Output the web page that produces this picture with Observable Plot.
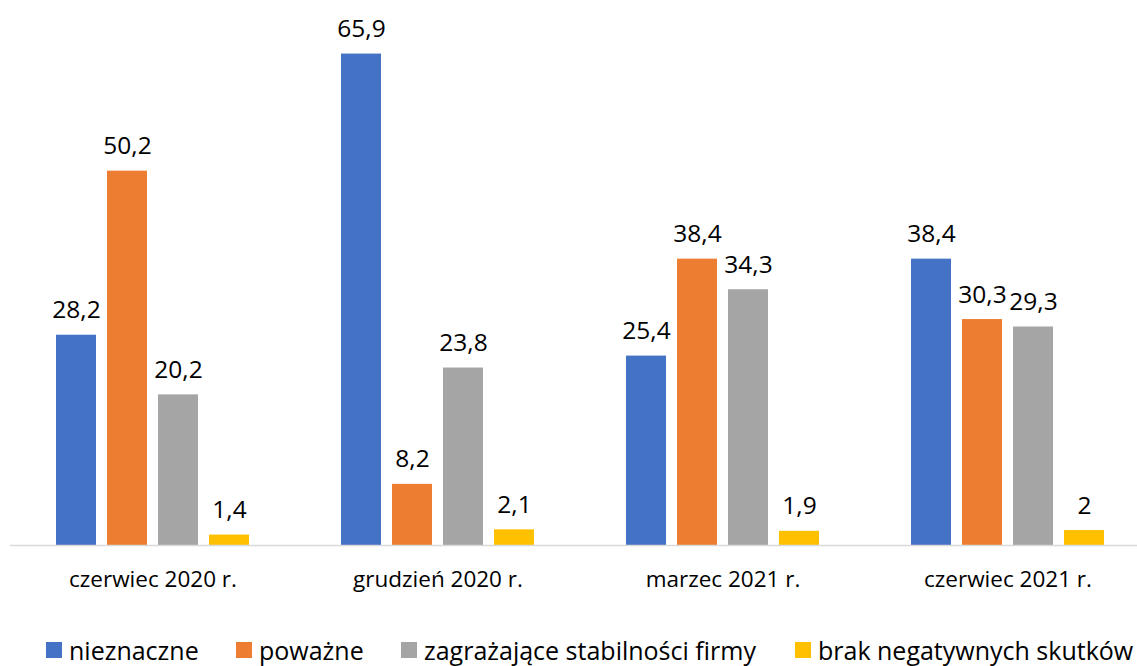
<!DOCTYPE html>
<html><head><meta charset="utf-8">
<script src="https://cdn.jsdelivr.net/npm/d3@7"></script>
<script src="https://cdn.jsdelivr.net/npm/@observablehq/plot@0.6"></script>
<style>
body{margin:0;background:#fff;font-family:"Open Sans",sans-serif;width:1137px;height:666px;overflow:hidden;position:relative}
#legend{position:absolute;left:0;top:630px;width:1137px;height:40px;font-size:25px;color:#000;white-space:nowrap}
.item{position:absolute;top:0;height:40px;display:flex;align-items:center}
.sw{width:16px;height:16px;margin-right:7px;flex:none}
</style>
</head><body><div id="chart"></div><div id="legend"></div><script>
const periods = ["czerwiec 2020 r.","grudzień 2020 r.","marzec 2021 r.","czerwiec 2021 r."];
const seriesNames = ["nieznaczne","poważne","zagrażające stabilności firmy","brak negatywnych skutków"];
const nieznaczne = [28.2,65.9,25.4,38.4];
const powazne = [50.2,8.2,38.4,30.3];
const zagrazajace = [20.2,23.8,34.3,29.3];
const brak = [1.4,2.1,1.9,2];
const colors = ["#4472C4","#ED7D31","#A5A5A5","#FFC000"];

const data = [];
[nieznaczne,powazne,zagrazajace,brak].forEach((arr,si)=>arr.forEach((v,pi)=>data.push({period:periods[pi],series:seriesNames[si],value:v})));
const fmt = v => String(v).replace(".",",");

const plot = Plot.plot({
  width:1137, height:610, marginTop:23, marginBottom:65, marginLeft:9, marginRight:-14,
  style:{fontFamily:'"Open Sans",sans-serif', background:"white", color:"#000"},
  fx:{domain:periods, padding:0, label:null},
  x:{domain:seriesNames, paddingInner:0.213, paddingOuter:0.866, axis:null},
  y:{domain:[0,70], axis:null},
  color:{domain:seriesNames, range:colors},
  marks:[
    Plot.barY(data,{fx:"period", x:"series", y:"value", fill:"series"}),
    Plot.ruleY([0],{stroke:"#d9d9d9", strokeWidth:1.5}),
    Plot.text(data,{fx:"period", x:"series", y:"value", text:d=>fmt(d.value), dy:-17, lineAnchor:"bottom", fontSize:24.5, fill:"#000"}),
    Plot.axisFx({anchor:"bottom", tickSize:0, tickPadding:26, fontSize:22.5, label:null, fill:"#000"})
  ]
});
document.getElementById("chart").appendChild(plot);

const lg = document.getElementById("legend");
const legendLeft = [46, 236, 401, 795];
seriesNames.forEach((s,i)=>{
  const it = document.createElement("div"); it.className="item"; it.style.left = legendLeft[i] + "px";
  const sw = document.createElement("span"); sw.className="sw"; sw.style.background=colors[i];
  const t = document.createElement("span"); t.textContent=s;
  it.appendChild(sw); it.appendChild(t); lg.appendChild(it);
});
</script></body></html>
